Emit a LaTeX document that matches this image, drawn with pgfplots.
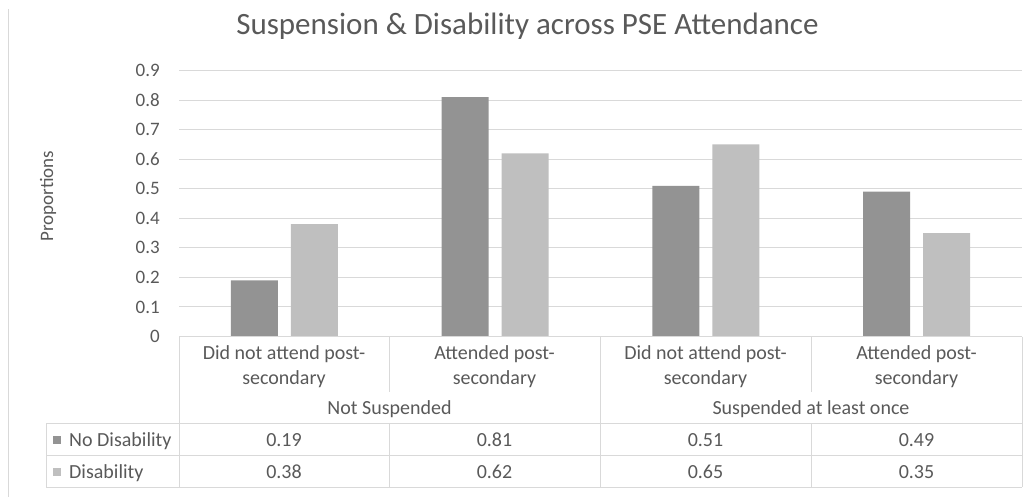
\documentclass[border=0pt]{standalone}
\usepackage{fontspec}
\setmainfont{Carlito}
\usepackage{pgfplots}
\usepackage{pgfplotstable}
\pgfplotsset{compat=1.18}

\definecolor{nodis}{HTML}{939393}
\definecolor{dis}{HTML}{BFBFBF}
\definecolor{gridc}{HTML}{D9D9D9}
\definecolor{txtc}{HTML}{595959}

\newcommand\lbl{\fontsize{19bp}{23bp}\selectfont}
\newcommand\tbl{\fontsize{20bp}{24bp}\selectfont}

% x = category position, then the two series
\pgfplotstableread{
x   nod   dis
0.5 0.19  0.38
1.5 0.81  0.62
2.5 0.51  0.65
3.5 0.49  0.35
}\data

\begin{document}
\begin{tikzpicture}
\useasboundingbox (0bp,0bp) rectangle (1034bp,-497bp);

\begin{axis}[
  at={(179bp,-336.5bp)}, anchor=south west,
  width=843bp, height=266bp, scale only axis,
  xmin=0, xmax=4, ymin=0, ymax=0.9,
  ybar=13bp, bar width=47bp,
  axis line style={draw=none},
  tick style={draw=none},
  xtick=\empty,
  ytick={0,0.1,0.2,0.3,0.4,0.5,0.6,0.7,0.8,0.9},
  ymajorgrids,
  major grid style={draw=gridc, line width=1bp},
  /pgf/number format/assume math mode=true,
  /pgf/number format/fixed,
  ticklabel style={font=\lbl, text=txtc},
  yticklabel style={anchor=east, inner sep=0pt, xshift=-19bp},
  clip=false,
]
\addplot[fill=nodis, draw=none] table[x=x, y=nod] {\data};
\addplot[fill=dis, draw=none] table[x=x, y=dis] {\data};
\end{axis}

% everything below in pixel coordinates, y pointing down
\begin{scope}[x=1bp, y=-1bp, every node/.style={font=\tbl, text=txtc, inner sep=0pt}]
  % left chart border
  \draw[gridc, line width=1bp] (8,9) -- (8,497);

  \node[anchor=base] at (527.5,34) {\fontsize{31bp}{35bp}\selectfont Suspension \& Disability across PSE Attendance};
  \node[rotate=90, font=\lbl] at (48,196) {Proportions};

  % data table grid
  \begin{scope}[gridc, line width=1bp]
    \draw (179,336.5) -- (1022,336.5);
    \draw (46,423) -- (1022,423);
    \draw (46,455) -- (1022,455);
    \draw (46,487) -- (1022,487);
    \draw (46,423) -- (46,487);
    \draw (179,336.5) -- (179,487);
    \draw (600,336.5) -- (600,487);
    \draw (1022,336.5) -- (1022,487);
    \draw (389,336.5) -- (389,392) (389,423) -- (389,487);
    \draw (811,336.5) -- (811,392) (811,423) -- (811,487);
  \end{scope}

  % category labels
  \foreach \cx/\a/\b in {284/Did not attend post-/secondary,
                         494.5/Attended post-/secondary,
                         705.5/Did not attend post-/secondary,
                         916.5/Attended post-/secondary} {
    \node[anchor=base] at (\cx,359.5) {\a};
    \node[anchor=base] at (\cx,384) {\b};
  }
  \node[anchor=base] at (389.5,414.5) {Not Suspended};
  \node[anchor=base] at (811,414.5) {Suspended at least once};

  % legend column
  \fill[nodis] (53,436) rectangle (61,444);
  \fill[dis] (53,468) rectangle (61,476);
  \node[anchor=base west] at (69,446.5) {No Disability};
  \node[anchor=base west] at (69,478) {Disability};

  % table values from the data
  \foreach \i/\cx in {0/284,1/494.5,2/705.5,3/916.5} {
    \pgfplotstablegetelem{\i}{nod}\of\data
    \node[anchor=base] at (\cx,446.5) {\pgfplotsretval};
    \pgfplotstablegetelem{\i}{dis}\of\data
    \node[anchor=base] at (\cx,478) {\pgfplotsretval};
  }
\end{scope}
\end{tikzpicture}
\end{document}
